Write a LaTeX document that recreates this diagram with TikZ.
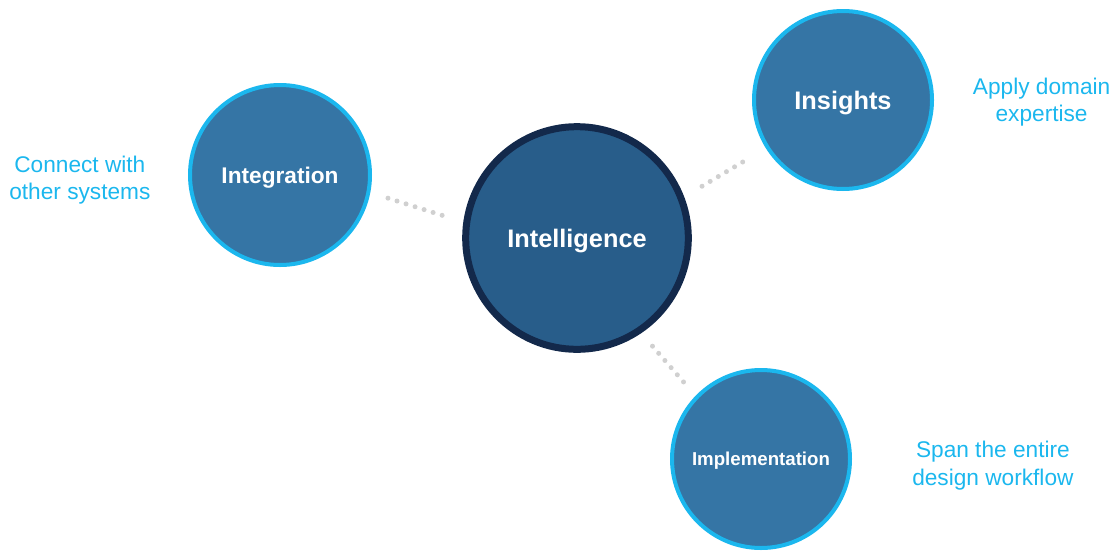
\documentclass[tikz,border=0pt]{standalone}
\usepackage{fontspec}
\setmainfont{Liberation Sans}
\usepackage{tikz}
\usetikzlibrary{positioning}
\definecolor{hubblue}{RGB}{40,93,138}
\definecolor{hubedge}{RGB}{19,41,75}
\definecolor{bubbleblue}{RGB}{53,117,165}
\definecolor{skyblue}{RGB}{27,183,238}
\definecolor{dotgray}{RGB}{208,208,208}

\begin{document}
\begin{tikzpicture}[x=0.75pt, y=-0.75pt,
  bubble/.style={circle, draw=skyblue, line width=3pt, fill=bubbleblue,
                 minimum size=133.5pt, inner sep=0pt, text depth=0pt,
                 text=white, font=\bfseries},
  hub/.style={circle, draw=hubedge, line width=5.25pt, fill=hubblue,
              minimum size=167pt, inner sep=0pt, text depth=0pt, text=white,
              font=\bfseries\fontsize{19}{22}\selectfont},
  note/.style={align=center, inner sep=0pt, text=skyblue,
               font=\fontsize{17}{20.5}\selectfont},
  link/.style={dotgray, line width=3.75pt, line cap=round,
               dash pattern=on 0pt off 7.1pt}
]
  \useasboundingbox (0,0) rectangle (1117,554);
  \node[hub] (intel) at (577,238) {Intelligence};
  \node[bubble, minimum size=135pt, font=\bfseries\fontsize{17}{20}\selectfont]
    (integ) at (280,175) {Integration};
  \node[bubble, font=\bfseries\fontsize{19}{22}\selectfont]
    (insig) at (843,100) {Insights};
  \node[bubble, font=\bfseries\fontsize{14}{17}\selectfont]
    (impl) at (761,459) {Implementation};
  % side notes
  \node[note, left=28pt of integ, yshift=-4pt] (integnote) {Connect with\\other systems};
  \node[note, right=29pt of insig, yshift=-1.5pt] (insignote) {Apply domain\\expertise};
  \node[note, right=45pt of impl, yshift=-5pt] (implnote) {Span the entire\\design workflow};
  % dotted links to the hub
  \draw[link, shorten <=13.9pt, shorten >=15.4pt] (integ.349) -- (intel.172);
  \draw[link, shorten <=20.2pt, shorten >=13.9pt] (insig.212) -- (intel.21);
  \draw[link, shorten <=12.9pt, shorten >=12.3pt] (intel.304) -- (impl.136);
\end{tikzpicture}
\end{document}
